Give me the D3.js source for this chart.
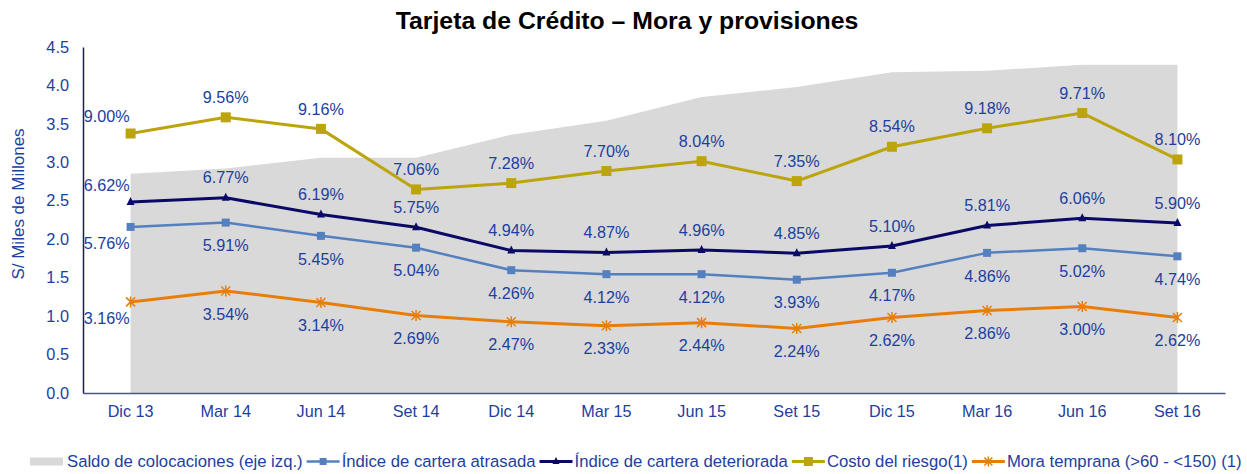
<!DOCTYPE html>
<html><head><meta charset="utf-8">
<script src="https://cdn.jsdelivr.net/npm/d3@7"></script>
<style>body{margin:0;background:#fff;} text{font-family:"Liberation Sans",Arial,sans-serif;}</style>
</head><body><svg id="chart" width="1247" height="474"></svg>
<script>
const categories = ["Dic 13","Mar 14","Jun 14","Set 14","Dic 14","Mar 15","Jun 15","Set 15","Dic 15","Mar 16","Jun 16","Set 16"];
const saldo = [2.85,2.92,3.06,3.06,3.36,3.54,3.85,3.98,4.17,4.19,4.27,4.27];
const atrasada = [5.76,5.91,5.45,5.04,4.26,4.12,4.12,3.93,4.17,4.86,5.02,4.74];
const deteriorada = [6.62,6.77,6.19,5.75,4.94,4.87,4.96,4.85,5.10,5.81,6.06,5.90];
const costo = [9.00,9.56,9.16,7.06,7.28,7.70,8.04,7.35,8.54,9.18,9.71,8.10];
const mora = [3.16,3.54,3.14,2.69,2.47,2.33,2.44,2.24,2.62,2.86,3.00,2.62];
const leftTicks = [0,0.5,1,1.5,2,2.5,3,3.5,4,4.5];
const rightDomain = [0,12];

const svg = d3.select("#chart");
const m = {l:83, r:1225, t:47, b:393};
const blue = "#1C40A0";
const x = d3.scaleBand().domain(categories).range([m.l, m.r]).padding(0);
const cx = c => x(c) + x.bandwidth()/2;
const yL = d3.scaleLinear().domain([0,4.5]).range([m.b, m.t]);
const yR = d3.scaleLinear().domain(rightDomain).range([m.b, m.t]);

// title
svg.append("text").attr("x",627).attr("y",29).attr("text-anchor","middle")
  .attr("font-size","24.8px").attr("font-weight","bold").attr("fill","#000")
  .text("Tarjeta de Crédito – Mora y provisiones");

// area
svg.append("path").datum(saldo)
  .attr("fill","#D9D9D9")
  .attr("d", d3.area().x((d,i)=>cx(categories[i])).y0(yL(0)).y1(d=>yL(d)));

// axes
const ax = svg.append("g").attr("transform",`translate(${m.l},0)`)
  .call(d3.axisLeft(yL).tickValues(leftTicks).tickFormat(d3.format(".1f")).tickSize(0).tickPadding(14));
ax.select(".domain").attr("stroke","#1a1a6e").attr("stroke-width",1.5);
ax.selectAll("text").attr("font-size","16.3px").attr("fill",blue).attr("font-family","Liberation Sans, Arial, sans-serif");

const bx = svg.append("g").attr("transform",`translate(0,${m.b})`)
  .call(d3.axisBottom(x).tickSize(0).tickPadding(12));
bx.select(".domain").attr("stroke","#4a4f9f").attr("stroke-width",1.5);
bx.selectAll("text").attr("font-size","16.2px").attr("fill",blue).attr("font-family","Liberation Sans, Arial, sans-serif");

svg.append("text").attr("transform","translate(24,204) rotate(-90)")
  .attr("text-anchor","middle").attr("font-size","17px").attr("fill",blue)
  .text("S/  Miles de Millones");

const series = [
  {name:"Índice de cartera atrasada", data:atrasada, color:"#5580C0", width:2.5, marker:"square", msize:8, pos:"below"},
  {name:"Índice de cartera deteriorada", data:deteriorada, color:"#0A0A66", width:3, marker:"triangle", msize:8, pos:"above"},
  {name:"Costo del riesgo(1)", data:costo, color:"#BCA40C", width:3, marker:"square", msize:10, pos:"above"},
  {name:"Mora temprana (>60 - <150) (1)", data:mora, color:"#E87E0A", width:3, marker:"star", msize:9, pos:"below"}
];

function drawMarker(g, s, px, py) {
  const h = s.msize/2;
  if (s.marker==="square") {
    g.append("rect").attr("x",px-h).attr("y",py-h).attr("width",s.msize).attr("height",s.msize).attr("fill",s.color);
  } else if (s.marker==="triangle") {
    g.append("path").attr("d",`M${px},${py-h-1}L${px+h},${py+h-1}L${px-h},${py+h-1}Z`).attr("fill",s.color);
  } else {
    g.append("path").attr("d",`M${px-h},${py-h}L${px+h},${py+h}M${px-h},${py+h}L${px+h},${py-h}M${px},${py-h-1}L${px},${py+h+1}`)
      .attr("stroke",s.color).attr("stroke-width",1.5).attr("fill","none");
  }
}

const line = d3.line();
series.forEach(s => {
  const pts = s.data.map((d,i)=>[cx(categories[i]), yR(d)]);
  svg.append("path").attr("d", line(pts)).attr("fill","none").attr("stroke",s.color).attr("stroke-width",s.width).attr("stroke-linejoin","round");
  const g = svg.append("g");
  pts.forEach(p => drawMarker(g, s, p[0], p[1]));
});

series.forEach(s => {
  s.data.forEach((d,i) => {
    const px = cx(categories[i]) + (i===0 ? -24 : 0);
    let py = yR(d) + (s.pos==="above" ? -20 : 23);
    if (i===0) py = yR(d) + (s.pos==="above" ? -17 : 16);
    svg.append("text").attr("x",px).attr("y",py).attr("dy","0.35em")
      .attr("text-anchor","middle").attr("font-size","16.2px").attr("fill",blue)
      .text(d3.format(".2f")(d)+"%");
  });
});

// legend
const lg = svg.append("g");
const lfs = "16.7px";
let lx = 30; const ly = 461.5;
lg.append("rect").attr("x",lx).attr("y",ly-4).attr("width",33).attr("height",8).attr("fill","#D9D9D9");
lx += 37;
let t = lg.append("text").attr("x",lx).attr("y",ly).attr("dy","0.35em").attr("font-size",lfs).attr("fill",blue).text("Saldo de colocaciones (eje izq.)");
lx += t.node().getComputedTextLength() + 4;
series.forEach(s => {
  lg.append("line").attr("x1",lx).attr("x2",lx+33).attr("y1",ly).attr("y2",ly).attr("stroke",s.color).attr("stroke-width",s.width);
  const ms = Object.assign({}, s, {msize: s.msize-1});
  drawMarker(lg, ms, lx+16.5, ly);
  lx += 35;
  t = lg.append("text").attr("x",lx).attr("y",ly).attr("dy","0.35em").attr("font-size",lfs).attr("fill",blue).text(s.name);
  lx += t.node().getComputedTextLength() + 4;
});
</script></body></html>
